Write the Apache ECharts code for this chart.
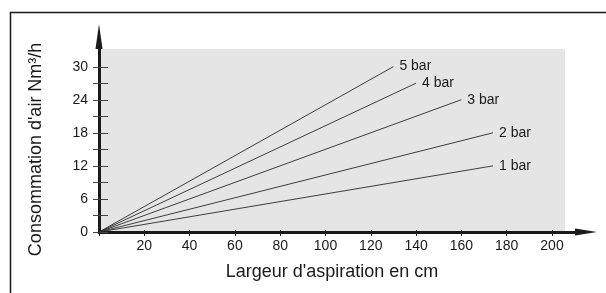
<!DOCTYPE html>
<html>
<head>
<meta charset="utf-8">
<script src="https://cdn.jsdelivr.net/npm/echarts@6/dist/echarts.min.js"></script>
<style>
html,body{margin:0;padding:0;background:#fff;}
#chart{width:606px;height:293px;}
</style>
</head>
<body>
<div id="chart"></div>
<script>
// ---- data ----
const seriesNames = ['1 bar', '2 bar', '3 bar', '4 bar', '5 bar'];
const startWidths = [0, 0, 0, 0, 0];
const startFlows = [0, 0, 0, 0, 0];
const endWidths = [174, 174, 160, 140, 130];
const endFlows = [12, 18, 24, 27, 30];
const xTickLabels = [20, 40, 60, 80, 100, 120, 140, 160, 180, 200];
const yTickLabels = [0, 6, 12, 18, 24, 30];
const xTitle = "Largeur d'aspiration en cm";
const yTitle = "Consommation d'air Nm³/h";

const FONT = "'Liberation Sans', Arial, Helvetica, sans-serif";
const INK = '#1a1a1a';

const chart = echarts.init(document.getElementById('chart'), null, {renderer: 'canvas'});

const series = seriesNames.map((name, i) => ({
  name: name,
  type: 'line',
  xAxisIndex: 1,
  yAxisIndex: 1,
  data: [[startWidths[i], startFlows[i]], [endWidths[i], endFlows[i]]],
  showSymbol: false,
  symbol: 'none',
  silent: true,
  animation: false,
  lineStyle: {color: '#2a2a2a', width: 0.9},
  endLabel: {
    show: true,
    formatter: name,
    distance: 6,
    color: INK,
    fontFamily: FONT,
    fontSize: 14
  }
}));

// dummy series so the background grid has content
series.push({
  type: 'line', xAxisIndex: 0, yAxisIndex: 0, data: [], silent: true
});

const option = {
  animation: false,
  backgroundColor: '#ffffff',
  grid: [
    // gray plotting background
    {left: 100, top: 49, width: 465, bottom: 61, show: true, backgroundColor: '#e5e5e6', borderWidth: 0},
    // main grid with arrow axes
    {left: 99, top: 49, width: 476, bottom: 61},
    // tick / label grid
    {left: 99, top: 66.76, width: 453, bottom: 61}
  ],
  xAxis: [
    {gridIndex: 0, type: 'value', show: false, min: 0, max: 1},
    {
      gridIndex: 1, type: 'value', min: 0, max: 210.2,
      axisLine: {show: true, lineStyle: {color: INK, width: 3}, symbol: ['none', 'triangle'], symbolSize: [7, 22], symbolOffset: [0, 11]},
      axisTick: {show: false}, axisLabel: {show: false}, splitLine: {show: false}
    },
    {
      gridIndex: 2, type: 'value', min: 0, max: 200, interval: 20, offset: -2,
      axisLine: {show: false},
      axisTick: {show: true, length: 6, lineStyle: {color: INK, width: 1}},
      splitLine: {show: false},
      axisLabel: {
        margin: 9, color: INK, fontFamily: FONT, fontSize: 14,
        formatter: v => xTickLabels.includes(v) ? String(v) : ''
      },
      name: xTitle, nameLocation: 'middle', nameGap: 33,
      nameTextStyle: {color: INK, fontFamily: FONT, fontSize: 18, padding: [0, 0, 0, 13]}
    }
  ],
  yAxis: [
    {gridIndex: 0, type: 'value', show: false, min: 0, max: 1},
    {
      gridIndex: 1, type: 'value', min: 0, max: 33.2,
      axisLine: {show: true, lineStyle: {color: INK, width: 3}, symbol: ['none', 'triangle'], symbolSize: [7, 25], symbolOffset: [0, 12.5]},
      axisTick: {show: false}, axisLabel: {show: false}, splitLine: {show: false}
    },
    {
      gridIndex: 2, type: 'value', min: 0, max: 30, interval: 3, offset: -9,
      axisLine: {show: false},
      axisTick: {show: true, length: 15, lineStyle: {color: '#444', width: 1}},
      splitLine: {show: false},
      axisLabel: {
        margin: 20, color: INK, fontFamily: FONT, fontSize: 14,
        formatter: v => yTickLabels.includes(v) ? String(v) : ''
      },
      name: yTitle, nameLocation: 'middle', nameRotate: 90, nameGap: 63,
      nameTextStyle: {color: INK, fontFamily: FONT, fontSize: 18, padding: [0, 0, 0, 0]}
    }
  ],
  graphic: [
    {
      type: 'rect', left: 8, top: 10, z: -10, silent: true,
      shape: {x: 0, y: 0, width: 700, height: 400},
      style: {fill: 'none', stroke: INK, lineWidth: 1.5}
    }
  ],
  series: series
};

chart.setOption(option);
</script>
</body>
</html>
